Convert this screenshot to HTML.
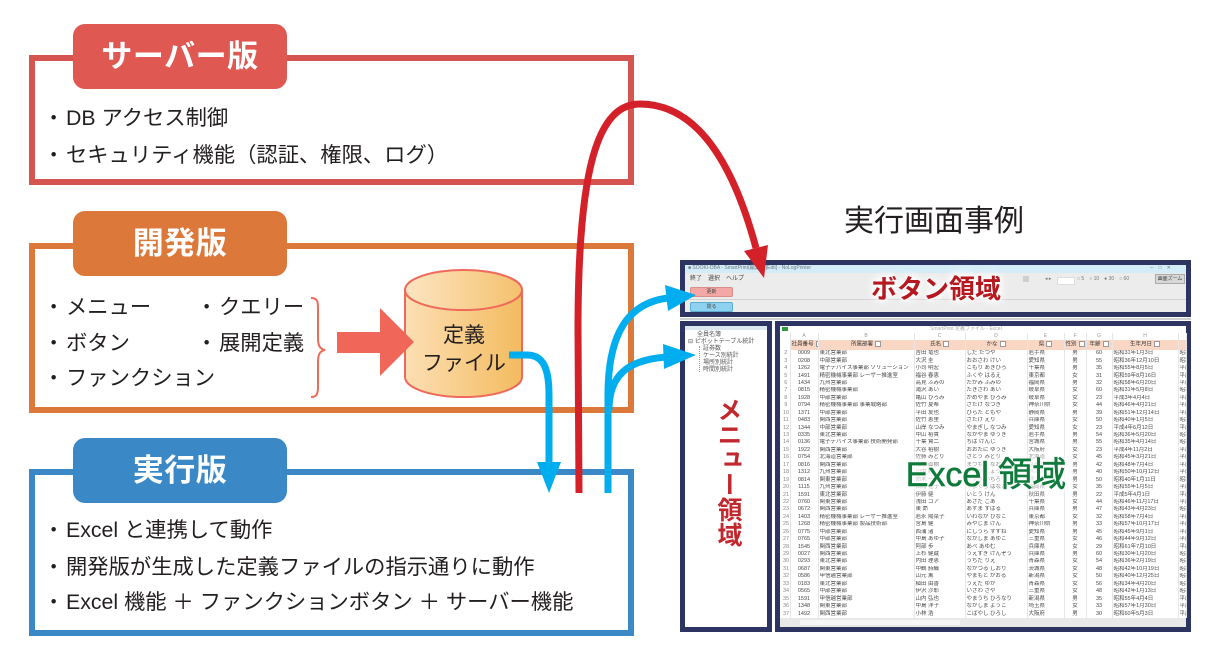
<!DOCTYPE html>
<html lang="ja">
<head>
<meta charset="utf-8">
<style>
html,body{margin:0;padding:0;background:#fff;}
body{width:1219px;height:666px;position:relative;overflow:hidden;font-family:"Liberation Sans","Noto Sans CJK JP",sans-serif;color:#231f20;}
.box{position:absolute;box-sizing:border-box;border:6px solid;left:29px;width:605px;}
.pill{position:absolute;left:73px;width:214px;height:65px;border-radius:12px;color:#fff;font-weight:bold;font-size:31px;line-height:65px;text-align:center;letter-spacing:0.5px;}
.t{position:absolute;font-size:21.3px;line-height:24px;white-space:nowrap;color:#231f20;}
.b{display:inline-block;width:23px;}
.abs{position:absolute;}
.navy{box-sizing:border-box;border:5px solid #2d3462;position:absolute;}
.tiny{position:absolute;font-size:6px;line-height:7px;color:#555;white-space:nowrap;}
#xl{position:absolute;left:782px;top:333px;}
#xl table{border-collapse:collapse;table-layout:fixed;width:404px;font-size:5.5px;color:#4a4a4a;}
#xl td{padding:0 1px;height:7.44px;line-height:7px;overflow:hidden;white-space:nowrap;border-right:1px solid #e6e6e6;}
#xl tr.cl td{height:7px;color:#999;text-align:center;font-size:5px;}
#xl tr.hd td{height:10px;background:#f9d7c4;color:#333;text-align:center;font-size:5.5px;}
#xl tr.hd td:first-child{background:#fff;}
#xl td.c{text-align:center;}
#xl td.r{text-align:center;color:#888;}
.fb{display:inline-block;width:4px;height:4px;border:1px solid #999;background:#fff;margin-left:2px;vertical-align:middle;}
</style>
</head>
<body>

<!-- Server box -->
<div class="box" style="top:55px;height:130px;border-color:#d6544f;"></div>
<div class="pill" style="top:24px;background:#e05852;">サーバー版</div>
<div class="t" style="left:43px;top:106px;"><span class="b">・</span>DB アクセス制御</div>
<div class="t" style="left:43px;top:143px;"><span class="b">・</span>セキュリティ機能（認証、権限、ログ）</div>

<!-- Dev box -->
<div class="box" style="top:243px;height:170px;border-color:#dc783a;"></div>
<div class="pill" style="top:211px;background:#dc783a;">開発版</div>
<div class="t" style="left:43px;top:295px;"><span class="b">・</span>メニュー</div>
<div class="t" style="left:43px;top:331px;"><span class="b">・</span>ボタン</div>
<div class="t" style="left:43px;top:366px;"><span class="b">・</span>ファンクション</div>
<div class="t" style="left:196px;top:295px;"><span class="b">・</span>クエリー</div>
<div class="t" style="left:196px;top:331px;"><span class="b">・</span>展開定義</div>

<!-- cylinder + coral arrow + brace -->
<svg class="abs" style="left:0;top:0;" width="1219" height="666">
<defs>
<linearGradient id="cg" x1="0" x2="1" y1="0" y2="0"><stop offset="0" stop-color="#fcdfb4"/><stop offset="1" stop-color="#f3bb5f"/></linearGradient>
<linearGradient id="cg2" x1="0" x2="1" y1="0" y2="0"><stop offset="0" stop-color="#fde5c2"/><stop offset="1" stop-color="#f4c16c"/></linearGradient>
</defs>
<path d="M405,290 L405,377 A58.5,20 0 0 0 522,377 L522,290 Z" fill="url(#cg)" stroke="#ef6a5a" stroke-width="2"/>
<ellipse cx="463.5" cy="290" rx="58.5" ry="20" fill="url(#cg2)" stroke="#ef6a5a" stroke-width="2"/>
<polygon points="337,332 380,332 380,308 414,342 380,376 380,353 337,353" fill="#f0675a"/>
<path d="M311,298 C318,298 318,302 318,310 L318,338 C318,346 320,349 325,350 C320,351 318,354 318,362 L318,387 C318,395 316,397 311,397" fill="none" stroke="#ec6a58" stroke-width="2"/>
</svg>
<div class="t" style="left:421px;top:324px;font-size:21px;width:86px;text-align:center;">定義</div>
<div class="t" style="left:419px;top:352px;font-size:21px;width:90px;text-align:center;">ファイル</div>

<!-- Exec box -->
<div class="box" style="top:469px;height:167px;border-color:#3a89c6;"></div>
<div class="pill" style="top:438px;background:#3a89c6;">実行版</div>
<div class="t" style="left:43px;top:518px;"><span class="b">・</span>Excel と連携して動作</div>
<div class="t" style="left:43px;top:555px;"><span class="b">・</span>開発版が生成した定義ファイルの指示通りに動作</div>
<div class="t" style="left:43px;top:590px;"><span class="b">・</span>Excel 機能 ＋ ファンクションボタン ＋ サーバー機能</div>

<!-- Title -->
<div class="abs" style="left:834px;top:206px;width:200px;text-align:center;font-size:30px;line-height:31px;white-space:nowrap;">実行画面事例</div>

<!-- Button panel -->
<div class="navy" style="left:680px;top:260px;width:511px;height:57px;background:#ececec;"></div>
<div class="abs" style="left:685px;top:265px;width:501px;height:8px;background:#d3ecf7;"></div>
<div class="tiny" style="left:688px;top:265px;font-size:5px;color:#6a7a88;">■ SOOKI-DBA - SmartPrint(編集) - [Edit] - NoLogPrinter</div>
<div class="tiny" style="left:1150px;top:265px;font-size:5px;color:#6a7a88;">─　□　✕</div>
<div class="tiny" style="left:690px;top:276px;font-size:6px;color:#444;">終了　選択　ヘルプ</div>
<div class="abs" style="left:690px;top:287px;width:43px;height:10px;box-sizing:border-box;background:#f3a8a5;border:1px solid #d98e8b;border-radius:2px;font-size:5px;line-height:8px;text-align:center;color:#444;">更新</div>
<div class="abs" style="left:685px;top:299px;width:501px;height:1px;background:#d2d2d2;"></div>
<div class="abs" style="left:690px;top:302px;width:43px;height:10px;box-sizing:border-box;background:#8ed2f0;border:1px solid #5aaed0;border-radius:2px;font-size:5px;line-height:8px;text-align:center;color:#444;">閉る</div>
<div class="abs" style="left:1023px;top:276px;width:6px;height:6px;background:#cfcfcf;"></div>
<div class="abs" style="left:1057px;top:277px;width:16px;height:6px;background:#fff;border:1px solid #ddd;"></div>
<div class="tiny" style="left:1045px;top:276px;font-size:5px;color:#777;">◂ ▸</div>
<div class="tiny" style="left:1077px;top:276px;font-size:5px;color:#777;">○ 5　○ 10　● 30　○ 60</div>
<div class="abs" style="left:1155px;top:274px;width:30px;height:10px;box-sizing:border-box;background:#d8d8d8;border:1px solid #aaa;font-size:5px;line-height:8px;text-align:center;color:#444;">画面ズーム</div>
<div class="abs" style="left:680px;top:318px;width:511px;height:2px;background:#cfcfcf;"></div>
<div class="abs" style="left:836px;top:275px;width:200px;text-align:center;font-size:26px;line-height:28px;font-weight:bold;color:#b5191f;white-space:nowrap;text-shadow:0 0 3px #fff,0 0 5px #fff,0 0 8px #fff,0 0 12px #fff,0 0 12px #fff;">ボタン領域</div>

<!-- Menu panel -->
<div class="navy" style="left:680px;top:321px;width:92px;height:311px;background:#fff;"></div>
<div class="abs" style="left:685px;top:326px;width:82px;height:4px;background:#dbe7ef;"></div>
<div class="tiny" style="left:697px;top:332px;">全員名簿</div>
<div class="tiny" style="left:688px;top:339px;">⊟ ピボットテーブル統計</div>
<div class="abs" style="left:699px;top:346px;width:0;height:26px;border-left:1px dotted #999;"></div>
<div class="tiny" style="left:703px;top:346px;">証券数</div>
<div class="tiny" style="left:703px;top:353px;">ケース別統計</div>
<div class="tiny" style="left:703px;top:360px;">場所別統計</div>
<div class="tiny" style="left:703px;top:367px;">時間別統計</div>
<div class="abs" style="left:715px;top:397px;width:26px;font-size:25px;line-height:26px;font-weight:bold;color:#c1272d;writing-mode:vertical-rl;white-space:nowrap;">メニュー領域</div>

<!-- Excel panel -->
<div class="navy" style="left:775px;top:321px;width:416px;height:311px;background:#fff;"></div>
<div class="abs" style="left:782px;top:327px;width:6px;height:4px;background:#2a9d3a;"></div>
<div class="tiny" style="left:930px;top:326px;font-size:5px;color:#aaa;">SmartPrint 定義ファイル - Excel</div>
<div id="xl">
<table>
<colgroup><col style="width:8px"><col style="width:28px"><col style="width:96px"><col style="width:51px"><col style="width:62px"><col style="width:37px"><col style="width:22px"><col style="width:26px"><col style="width:66px"><col style="width:8px"></colgroup>
<tr class="cl"><td></td><td>A</td><td>B</td><td>C</td><td>D</td><td>E</td><td>F</td><td>G</td><td>H</td><td></td></tr>
<tr class="hd"><td></td><td>社員番号<span class="fb"></span></td><td>所属部署<span class="fb"></span></td><td>氏名<span class="fb"></span></td><td>かな<span class="fb"></span></td><td>県<span class="fb"></span></td><td>性別<span class="fb"></span></td><td>年齢<span class="fb"></span></td><td>生年月日<span class="fb"></span></td><td></td></tr>
<tr><td class="r">2</td><td class="c">0009</td><td>東北営業部</td><td>吉田 竜也</td><td>しだ たつや</td><td>岩手県</td><td class="c">男</td><td class="c">60</td><td>昭和31年1月3日</td><td>昭和</td></tr>
<tr><td class="r">3</td><td class="c">0208</td><td>中部営業部</td><td>大沢 圭</td><td>おおさわ けい</td><td>愛知県</td><td class="c">男</td><td class="c">55</td><td>昭和36年12月10日</td><td>昭和</td></tr>
<tr><td class="r">4</td><td class="c">1262</td><td>電子デバイス事業部 ソリューション</td><td>小司 明宏</td><td>こもり あきひろ</td><td>千葉県</td><td class="c">男</td><td class="c">35</td><td>昭和55年8月5日</td><td>平成</td></tr>
<tr><td class="r">5</td><td class="c">1491</td><td>精密機械事業部 レーザー推進室</td><td>福谷 春恵</td><td>ふくや はるえ</td><td>東京都</td><td class="c">女</td><td class="c">31</td><td>昭和59年8月16日</td><td>平成</td></tr>
<tr><td class="r">6</td><td class="c">1434</td><td>九州営業部</td><td>高見 ふみの</td><td>たかみ ふみの</td><td>福岡県</td><td class="c">男</td><td class="c">32</td><td>昭和58年6月20日</td><td>平成</td></tr>
<tr><td class="r">7</td><td class="c">0815</td><td>精密機械事業部</td><td>滝沢 あい</td><td>たきざわ あい</td><td>岐阜県</td><td class="c">女</td><td class="c">60</td><td>昭和31年5月8日</td><td>昭和</td></tr>
<tr><td class="r">8</td><td class="c">1928</td><td>中部営業部</td><td>亀山 ひろみ</td><td>かめやま ひろみ</td><td>岐阜県</td><td class="c">女</td><td class="c">23</td><td>平成3年4月4日</td><td>平成</td></tr>
<tr><td class="r">9</td><td class="c">0794</td><td>精密機械事業部 事業戦略部</td><td>佐竹 夏希</td><td>さたけ なつき</td><td>神奈川県</td><td class="c">女</td><td class="c">44</td><td>昭和46年4月21日</td><td>平成</td></tr>
<tr><td class="r">10</td><td class="c">1371</td><td>中部営業部</td><td>平田 友也</td><td>ひらた ともや</td><td>静岡県</td><td class="c">男</td><td class="c">39</td><td>昭和51年12月14日</td><td>平成</td></tr>
<tr><td class="r">11</td><td class="c">0483</td><td>関西営業部</td><td>佐竹 恵里</td><td>さたけ えり</td><td>兵庫県</td><td class="c">女</td><td class="c">50</td><td>昭和40年1月5日</td><td>昭和</td></tr>
<tr><td class="r">12</td><td class="c">1344</td><td>中部営業部</td><td>山岸 なつみ</td><td>やまぎし なつみ</td><td>愛知県</td><td class="c">女</td><td class="c">23</td><td>平成4年6月12日</td><td>平成</td></tr>
<tr><td class="r">13</td><td class="c">0335</td><td>東北営業部</td><td>中山 裕貴</td><td>なかやま ゆうき</td><td>岩手県</td><td class="c">男</td><td class="c">54</td><td>昭和36年5月20日</td><td>昭和</td></tr>
<tr><td class="r">14</td><td class="c">0136</td><td>電子デバイス事業部 技術開発部</td><td>千葉 賢二</td><td>ちば けんじ</td><td>宮城県</td><td class="c">男</td><td class="c">55</td><td>昭和35年4月14日</td><td>昭和</td></tr>
<tr><td class="r">15</td><td class="c">1922</td><td>関西営業部</td><td>大谷 裕樹</td><td>おおたに ゆうき</td><td>大阪府</td><td class="c">女</td><td class="c">23</td><td>平成4年11月2日</td><td>平成</td></tr>
<tr><td class="r">16</td><td class="c">0754</td><td>北海道営業部</td><td>佐藤 みどり</td><td>さとう みどり</td><td>北海道</td><td class="c">女</td><td class="c">45</td><td>昭和45年3月21日</td><td>平成</td></tr>
<tr><td class="r">17</td><td class="c">0816</td><td>関西営業部</td><td>松本 直樹</td><td>まつもと なおき</td><td>京都府</td><td class="c">男</td><td class="c">42</td><td>昭和48年7月4日</td><td>平成</td></tr>
<tr><td class="r">18</td><td class="c">1312</td><td>九州営業部</td><td>田中 翔</td><td>たなか しょう</td><td>熊本県</td><td class="c">男</td><td class="c">40</td><td>昭和50年10月12日</td><td>平成</td></tr>
<tr><td class="r">19</td><td class="c">0814</td><td>関東営業部</td><td>鈴木 一郎</td><td>すずき いちろう</td><td>埼玉県</td><td class="c">男</td><td class="c">50</td><td>昭和40年1月11日</td><td>昭和</td></tr>
<tr><td class="r">20</td><td class="c">1115</td><td>九州営業部</td><td>山口 花子</td><td>やまぐち はなこ</td><td>福岡県</td><td class="c">女</td><td class="c">35</td><td>昭和55年1月5日</td><td>平成</td></tr>
<tr><td class="r">21</td><td class="c">1591</td><td>東北営業部</td><td>伊藤 健</td><td>いとう けん</td><td>秋田県</td><td class="c">男</td><td class="c">22</td><td>平成5年4月1日</td><td>平成</td></tr>
<tr><td class="r">22</td><td class="c">0760</td><td>関東営業部</td><td>浅田 ゴア</td><td>あさだ ごあ</td><td>千葉県</td><td class="c">女</td><td class="c">44</td><td>昭和46年11月17日</td><td>平成</td></tr>
<tr><td class="r">23</td><td class="c">0672</td><td>関西営業部</td><td>東 昴</td><td>あずま すばる</td><td>兵庫県</td><td class="c">男</td><td class="c">47</td><td>昭和43年4月23日</td><td>昭和</td></tr>
<tr><td class="r">24</td><td class="c">1403</td><td>精密機械事業部 レーザー推進室</td><td>岩永 陽菜子</td><td>いわなが ひなこ</td><td>東京都</td><td class="c">女</td><td class="c">32</td><td>昭和58年7月4日</td><td>平成</td></tr>
<tr><td class="r">25</td><td class="c">1268</td><td>精密機械事業部 製品技術部</td><td>宮島 健</td><td>みやじま けん</td><td>神奈川県</td><td class="c">男</td><td class="c">33</td><td>昭和57年10月17日</td><td>平成</td></tr>
<tr><td class="r">26</td><td class="c">0775</td><td>中部営業部</td><td>西浦 渚</td><td>にしうら すずね</td><td>愛知県</td><td class="c">男</td><td class="c">45</td><td>昭和45年9月1日</td><td>平成</td></tr>
<tr><td class="r">27</td><td class="c">0765</td><td>中部営業部</td><td>中島 あゆ子</td><td>なかしま あゆこ</td><td>三重県</td><td class="c">女</td><td class="c">46</td><td>昭和44年9月12日</td><td>平成</td></tr>
<tr><td class="r">28</td><td class="c">1545</td><td>関西営業部</td><td>阿部 歩</td><td>あべ あゆむ</td><td>兵庫県</td><td class="c">女</td><td class="c">29</td><td>昭和61年7月10日</td><td>平成</td></tr>
<tr><td class="r">29</td><td class="c">0027</td><td>関西営業部</td><td>上杉 健蔵</td><td>うえすぎ けんぞう</td><td>兵庫県</td><td class="c">男</td><td class="c">60</td><td>昭和30年1月20日</td><td>昭和</td></tr>
<tr><td class="r">30</td><td class="c">0293</td><td>東北営業部</td><td>内田 理恵</td><td>うちだ りえ</td><td>青森県</td><td class="c">女</td><td class="c">54</td><td>昭和36年2月19日</td><td>昭和</td></tr>
<tr><td class="r">31</td><td class="c">0687</td><td>関東営業部</td><td>中鶴 詩織</td><td>なかつる しおり</td><td>茨城県</td><td class="c">女</td><td class="c">48</td><td>昭和42年10月19日</td><td>昭和</td></tr>
<tr><td class="r">32</td><td class="c">0586</td><td>甲信越営業部</td><td>山元 薫</td><td>やまもと かおる</td><td>新潟県</td><td class="c">女</td><td class="c">50</td><td>昭和40年12月25日</td><td>昭和</td></tr>
<tr><td class="r">33</td><td class="c">0183</td><td>東北営業部</td><td>植田 由香</td><td>うえだ ゆか</td><td>青森県</td><td class="c">女</td><td class="c">56</td><td>昭和34年4月20日</td><td>昭和</td></tr>
<tr><td class="r">34</td><td class="c">0565</td><td>中部営業部</td><td>伊沢 沙耶</td><td>いざわ さや</td><td>三重県</td><td class="c">女</td><td class="c">48</td><td>昭和42年1月13日</td><td>昭和</td></tr>
<tr><td class="r">35</td><td class="c">1591</td><td>甲信越営業部</td><td>山内 弘也</td><td>やまうち ひろなり</td><td>新潟県</td><td class="c">男</td><td class="c">35</td><td>昭和55年4月4日</td><td>平成</td></tr>
<tr><td class="r">36</td><td class="c">1348</td><td>関東営業部</td><td>中島 洋子</td><td>なかしま ようこ</td><td>埼玉県</td><td class="c">女</td><td class="c">33</td><td>昭和57年1月30日</td><td>平成</td></tr>
<tr><td class="r">37</td><td class="c">1492</td><td>関西営業部</td><td>小林 浩</td><td>こばやし ひろし</td><td>大阪府</td><td class="c">男</td><td class="c">30</td><td>昭和60年5月3日</td><td>平成</td></tr>
</table>
</div>
<div class="abs" style="left:780px;top:618px;width:406px;height:9px;background:#e8e8e8;"></div>
<div class="abs" style="left:800px;top:620px;width:160px;height:5px;background:#f6f6f6;"></div>
<div class="abs" style="left:876px;top:458px;width:220px;text-align:center;font-size:34px;line-height:34px;color:#0f7a3b;-webkit-text-stroke:0.6px #0f7a3b;white-space:nowrap;text-shadow:0 0 3px #fff,0 0 5px #fff,0 0 8px #fff,0 0 12px #fff,0 0 14px #fff,0 0 16px #fff;">Excel 領域</div>

<!-- Arrows on top -->
<svg class="abs" style="left:0;top:0;" width="1219" height="666">
<path d="M579,493 L578,330 C578,170 597,104 640,104 C700,104 735,170 756,248" fill="none" stroke="#d42129" stroke-width="7"/>
<polygon points="764,278 768,245 744,251" fill="#d42129"/>
<path d="M509,355 L527,355 C545,355 549,372 549,395 L549,464" fill="none" stroke="#00aeef" stroke-width="7"/>
<polygon points="537,462 561,462 549,493" fill="#00aeef"/>
<path d="M608,493 L608,395 C608,335 627,303 668,298" fill="none" stroke="#00aeef" stroke-width="7"/>
<polygon points="696,295 665,285 668,311" fill="#00aeef"/>
<path d="M609,410 C609,375 628,360 666,357" fill="none" stroke="#00aeef" stroke-width="7"/>
<polygon points="696,355 663,344 664,369" fill="#00aeef"/>
</svg>

</body>
</html>
